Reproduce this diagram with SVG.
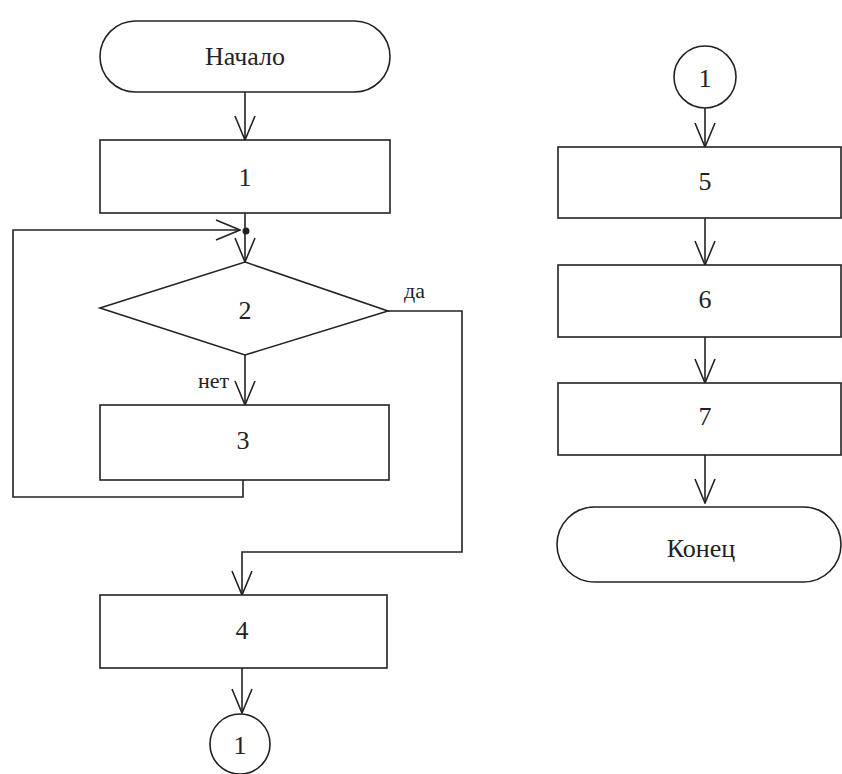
<svg xmlns="http://www.w3.org/2000/svg" width="842" height="774" viewBox="0 0 842 774">
<defs>
<style>
.s{fill:#fff;stroke:#222;stroke-width:1.6}
.c{fill:none;stroke:#222;stroke-width:1.6}
.t{font-size:26px;fill:#222;text-anchor:middle;dominant-baseline:central}
.l{font-size:22px;fill:#222}
</style>
<marker id="a" viewBox="0 0 26 22" refX="25" refY="11" markerWidth="26" markerHeight="22" markerUnits="userSpaceOnUse" orient="auto">
<path d="M1,1 L25,11 L1,21" fill="none" stroke="#222" stroke-width="1.6"/>
</marker>
</defs>
<rect width="842" height="774" fill="#fff"/>
<g id="connectors" font-family="'Liberation Serif', 'DejaVu Serif', serif">
<line class="c" x1="245" y1="92" x2="245" y2="140" marker-end="url(#a)"/>
<line class="c" x1="245" y1="213" x2="245" y2="262" marker-end="url(#a)"/>
<circle cx="246" cy="231" r="3.5" fill="#222"/>
<polyline class="c" points="243,480 243,497 13,497 13,230 240,230" marker-end="url(#a)"/>
<line class="c" x1="245" y1="355" x2="245" y2="405" marker-end="url(#a)"/>
<polyline class="c" points="388,311 462,311 462,552 242,552 242,595" marker-end="url(#a)"/>
<line class="c" x1="242" y1="668" x2="242" y2="713" marker-end="url(#a)"/>
<line class="c" x1="705" y1="108" x2="705" y2="147" marker-end="url(#a)"/>
<line class="c" x1="705" y1="218" x2="705" y2="265" marker-end="url(#a)"/>
<line class="c" x1="705" y1="337" x2="705" y2="383" marker-end="url(#a)"/>
<line class="c" x1="705" y1="455" x2="705" y2="503" marker-end="url(#a)"/>
<text class="l" x="404" y="298">да</text>
<text class="l" x="198" y="388">нет</text>
</g>
<g font-family="'Liberation Serif', 'DejaVu Serif', serif">
<g id="start">
<rect class="s" x="100" y="21" width="290" height="71" rx="35.5"/>
<text class="t" x="245" y="56">Начало</text>
</g>
<g id="n1">
<rect class="s" x="100" y="140" width="290" height="73"/>
<text class="t" x="245" y="177">1</text>
</g>
<g id="n2">
<polygon class="s" points="245,262 388,311 245,355 100,308"/>
<text class="t" x="245" y="310">2</text>
</g>
<g id="n3">
<rect class="s" x="100" y="405" width="289" height="75"/>
<text class="t" x="243" y="440">3</text>
</g>
<g id="n4">
<rect class="s" x="100" y="595" width="287" height="73"/>
<text class="t" x="242" y="630">4</text>
</g>
<g id="c1a">
<circle class="s" cx="240" cy="744" r="30"/>
<text class="t" x="240" y="745">1</text>
</g>
<g id="c1b">
<circle class="s" cx="705" cy="77" r="31"/>
<text class="t" x="705" y="78">1</text>
</g>
<g id="n5">
<rect class="s" x="558" y="147" width="283" height="71"/>
<text class="t" x="705" y="181">5</text>
</g>
<g id="n6">
<rect class="s" x="558" y="265" width="283" height="72"/>
<text class="t" x="705" y="299">6</text>
</g>
<g id="n7">
<rect class="s" x="558" y="383" width="283" height="72"/>
<text class="t" x="705" y="416">7</text>
</g>
<g id="end">
<rect class="s" x="557" y="507" width="284" height="75" rx="37.5"/>
<text class="t" x="701" y="548">Конец</text>
</g>
</g>
</svg>
